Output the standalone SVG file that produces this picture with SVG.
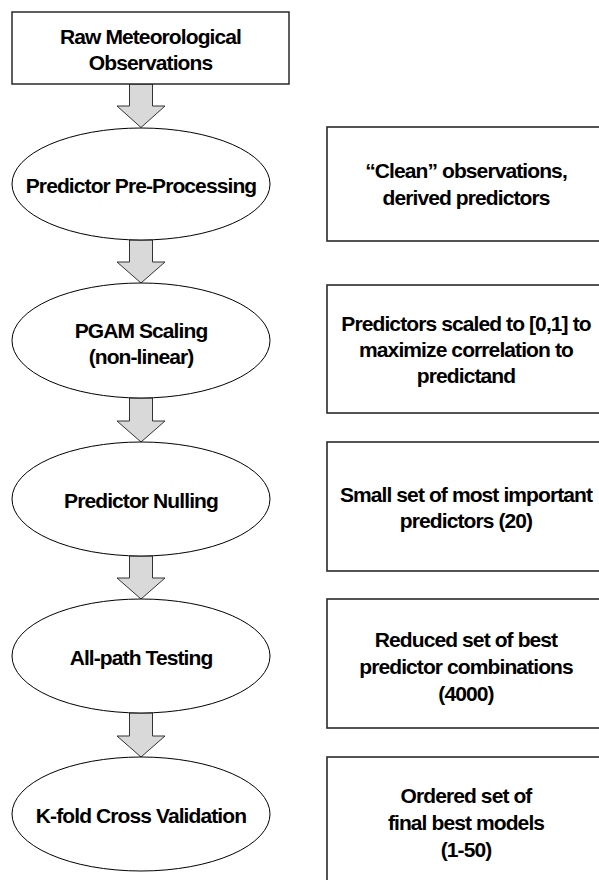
<svg xmlns="http://www.w3.org/2000/svg" width="599" height="880" viewBox="0 0 599 880">
  <defs>
    <style>
      .box { fill: #ffffff; stroke: #1a1a1a; stroke-width: 1.4; }
      .side { fill: #ffffff; stroke: #2a2a2a; stroke-width: 1.6; }
      .step { fill: #ffffff; stroke: #000000; stroke-width: 1; }
      .flow { fill: #d9d9d9; stroke: #333333; stroke-width: 1; stroke-linejoin: miter; }
      text { font-family: "Liberation Sans", Arial, sans-serif; font-weight: bold; font-size: 21px; letter-spacing: -0.9px; fill: #000000; text-anchor: middle; }
    </style>
  </defs>

  <!-- block arrows between the process steps: shaft 23 wide, head 48 wide -->
  <g id="connectors">
    <path class="flow" d="M 129.5 84 L 152.5 84 L 152.5 106 L 165 106 L 141 127.5 L 117 106 L 129.5 106 Z"/>
    <path class="flow" d="M 129.5 240 L 152.5 240 L 152.5 262 L 165 262 L 141 283 L 117 262 L 129.5 262 Z"/>
    <path class="flow" d="M 129.5 398 L 152.5 398 L 152.5 421 L 165 421 L 141 442 L 117 421 L 129.5 421 Z"/>
    <path class="flow" d="M 129.5 556 L 152.5 556 L 152.5 578 L 165 578 L 141 599 L 117 578 L 129.5 578 Z"/>
    <path class="flow" d="M 129.5 713 L 152.5 713 L 152.5 736 L 165 736 L 141 757 L 117 736 L 129.5 736 Z"/>
  </g>

  <!-- input data -->
  <g id="raw-observations">
    <rect class="box" x="12" y="12" width="277" height="72"/>
    <text x="150.5" y="44">Raw Meteorological</text>
    <text x="150.5" y="70">Observations</text>
  </g>

  <!-- processing steps -->
  <g id="pre-processing">
    <ellipse class="step" cx="141" cy="184" rx="129" ry="56"/>
    <text x="141" y="192.5">Predictor Pre-Processing</text>
  </g>
  <g id="pgam-scaling">
    <ellipse class="step" cx="141" cy="340.5" rx="129" ry="57.5"/>
    <text x="141" y="338">PGAM Scaling</text>
    <text x="141" y="364">(non-linear)</text>
  </g>
  <g id="predictor-nulling">
    <ellipse class="step" cx="141" cy="499" rx="129" ry="57"/>
    <text x="141" y="507.5">Predictor Nulling</text>
  </g>
  <g id="all-path-testing">
    <ellipse class="step" cx="141" cy="656" rx="129" ry="57"/>
    <text x="141" y="664.5">All-path Testing</text>
  </g>
  <g id="k-fold-cv">
    <ellipse class="step" cx="141" cy="814" rx="129" ry="57"/>
    <text x="141" y="822.5">K-fold Cross Validation</text>
  </g>

  <!-- outputs of each step -->
  <g id="out-pre-processing">
    <rect class="side" x="327" y="127" width="290" height="114"/>
    <text x="466" y="178">“Clean” observations,</text>
    <text x="466" y="205">derived predictors</text>
  </g>
  <g id="out-pgam-scaling">
    <rect class="side" x="327" y="285" width="290" height="128"/>
    <text x="466" y="331">Predictors scaled to [0,1] to</text>
    <text x="466" y="357">maximize correlation to</text>
    <text x="466" y="383">predictand</text>
  </g>
  <g id="out-predictor-nulling">
    <rect class="side" x="327" y="442" width="290" height="129"/>
    <text x="466" y="502">Small set of most important</text>
    <text x="466" y="528">predictors (20)</text>
  </g>
  <g id="out-all-path-testing">
    <rect class="side" x="327" y="599" width="290" height="129"/>
    <text x="466" y="647">Reduced set of best</text>
    <text x="466" y="674">predictor combinations</text>
    <text x="466" y="701">(4000)</text>
  </g>
  <g id="out-k-fold-cv">
    <rect class="side" x="327" y="757" width="290" height="140"/>
    <text x="466" y="803">Ordered set of</text>
    <text x="466" y="830">final best models</text>
    <text x="466" y="857">(1-50)</text>
  </g>
</svg>
